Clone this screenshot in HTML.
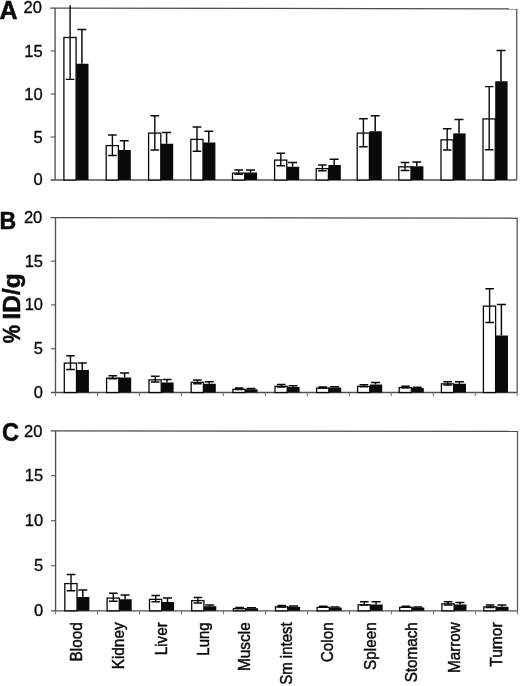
<!DOCTYPE html>
<html><head><meta charset="utf-8"><title>Figure</title>
<style>html,body{margin:0;padding:0;background:#fff}svg{display:block}text{font-family:"Liberation Sans",Arial,Helvetica,sans-serif;fill:#0a0a0a;stroke:#0a0a0a;stroke-width:0.35px}</style></head><body>
<svg width="520" height="686" viewBox="0 0 520 686">
<rect width="520" height="686" fill="#fff"/>
<g>
<line x1="50.1" y1="8.2" x2="517.3000000000001" y2="8.85" stroke="#4c4c4c" stroke-width="1.25"/>
<line x1="516.7" y1="8.85" x2="516.7" y2="180.0" stroke="#5a5a5a" stroke-width="1.3"/>
<line x1="55.1" y1="8.0" x2="55.1" y2="180.0" stroke="#505050" stroke-width="1.35"/>
<line x1="50.6" y1="180.0" x2="516.7" y2="180.0" stroke="#505050" stroke-width="1.3"/>
<text x="41.90" y="12.90" font-size="16.5" text-anchor="end">20</text>
<line x1="50.6" y1="51.00" x2="55.1" y2="51.00" stroke="#555" stroke-width="1.1"/>
<text x="42.60" y="56.50" font-size="16.5" text-anchor="end">15</text>
<line x1="50.6" y1="94.00" x2="55.1" y2="94.00" stroke="#555" stroke-width="1.1"/>
<text x="42.60" y="99.50" font-size="16.5" text-anchor="end">10</text>
<line x1="50.6" y1="137.00" x2="55.1" y2="137.00" stroke="#555" stroke-width="1.1"/>
<text x="42.60" y="142.50" font-size="16.5" text-anchor="end">5</text>
<text x="42.60" y="184.90" font-size="16.5" text-anchor="end">0</text>
<rect x="63.90" y="37.50" width="12.20" height="142.50" fill="#fff" stroke="#0a0a0a" stroke-width="1.3"/>
<rect x="76.10" y="63.75" width="12.40" height="116.25" fill="#0a0a0a"/>
<path d="M70.10 5.30V79.40M65.80 79.40H74.40" stroke="#0a0a0a" stroke-width="1.4" fill="none"/>
<path d="M81.90 29.40V63.75M77.40 29.40H86.40" stroke="#0a0a0a" stroke-width="1.5" fill="none"/>
<rect x="106.20" y="145.60" width="12.20" height="34.40" fill="#fff" stroke="#0a0a0a" stroke-width="1.3"/>
<rect x="118.40" y="150.00" width="12.40" height="30.00" fill="#0a0a0a"/>
<path d="M112.40 135.00V155.50M108.10 135.00H116.70M108.10 155.50H116.70" stroke="#0a0a0a" stroke-width="1.4" fill="none"/>
<path d="M124.20 140.75V150.00M119.70 140.75H128.70" stroke="#0a0a0a" stroke-width="1.5" fill="none"/>
<rect x="148.60" y="133.10" width="12.20" height="46.90" fill="#fff" stroke="#0a0a0a" stroke-width="1.3"/>
<rect x="160.80" y="143.75" width="12.40" height="36.25" fill="#0a0a0a"/>
<path d="M154.80 115.75V150.00M150.50 115.75H159.10M150.50 150.00H159.10" stroke="#0a0a0a" stroke-width="1.4" fill="none"/>
<path d="M166.60 132.50V143.75M162.10 132.50H171.10" stroke="#0a0a0a" stroke-width="1.5" fill="none"/>
<rect x="190.80" y="139.35" width="12.20" height="40.65" fill="#fff" stroke="#0a0a0a" stroke-width="1.3"/>
<rect x="203.00" y="142.50" width="12.40" height="37.50" fill="#0a0a0a"/>
<path d="M197.00 127.00V151.25M192.70 127.00H201.30M192.70 151.25H201.30" stroke="#0a0a0a" stroke-width="1.4" fill="none"/>
<path d="M208.80 131.25V142.50M204.30 131.25H213.30" stroke="#0a0a0a" stroke-width="1.5" fill="none"/>
<rect x="232.50" y="173.10" width="12.20" height="6.90" fill="#fff" stroke="#0a0a0a" stroke-width="1.3"/>
<rect x="244.70" y="172.50" width="12.40" height="7.50" fill="#0a0a0a"/>
<path d="M238.70 170.00V174.25M234.40 170.00H243.00M234.40 174.25H243.00" stroke="#0a0a0a" stroke-width="1.4" fill="none"/>
<path d="M250.50 170.00V172.50M246.00 170.00H255.00" stroke="#0a0a0a" stroke-width="1.5" fill="none"/>
<rect x="274.60" y="160.10" width="12.20" height="19.90" fill="#fff" stroke="#0a0a0a" stroke-width="1.3"/>
<rect x="286.80" y="166.75" width="12.40" height="13.25" fill="#0a0a0a"/>
<path d="M280.80 153.25V165.75M276.50 153.25H285.10M276.50 165.75H285.10" stroke="#0a0a0a" stroke-width="1.4" fill="none"/>
<path d="M292.60 162.50V166.75M288.10 162.50H297.10" stroke="#0a0a0a" stroke-width="1.5" fill="none"/>
<rect x="316.20" y="168.60" width="12.20" height="11.40" fill="#fff" stroke="#0a0a0a" stroke-width="1.3"/>
<rect x="328.40" y="165.00" width="12.40" height="15.00" fill="#0a0a0a"/>
<path d="M322.40 165.00V170.75M318.10 165.00H326.70M318.10 170.75H326.70" stroke="#0a0a0a" stroke-width="1.4" fill="none"/>
<path d="M334.20 159.25V165.00M329.70 159.25H338.70" stroke="#0a0a0a" stroke-width="1.5" fill="none"/>
<rect x="357.20" y="133.10" width="12.20" height="46.90" fill="#fff" stroke="#0a0a0a" stroke-width="1.3"/>
<rect x="369.40" y="131.25" width="12.40" height="48.75" fill="#0a0a0a"/>
<path d="M363.40 118.75V146.75M359.10 118.75H367.70M359.10 146.75H367.70" stroke="#0a0a0a" stroke-width="1.4" fill="none"/>
<path d="M375.20 115.75V131.25M370.70 115.75H379.70" stroke="#0a0a0a" stroke-width="1.5" fill="none"/>
<rect x="398.80" y="166.85" width="12.20" height="13.15" fill="#fff" stroke="#0a0a0a" stroke-width="1.3"/>
<rect x="411.00" y="166.25" width="12.40" height="13.75" fill="#0a0a0a"/>
<path d="M405.00 162.50V170.50M400.70 162.50H409.30M400.70 170.50H409.30" stroke="#0a0a0a" stroke-width="1.4" fill="none"/>
<path d="M416.80 162.00V166.25M412.30 162.00H421.30" stroke="#0a0a0a" stroke-width="1.5" fill="none"/>
<rect x="441.00" y="139.85" width="12.20" height="40.15" fill="#fff" stroke="#0a0a0a" stroke-width="1.3"/>
<rect x="453.20" y="133.40" width="12.40" height="46.60" fill="#0a0a0a"/>
<path d="M447.20 128.75V150.00M442.90 128.75H451.50M442.90 150.00H451.50" stroke="#0a0a0a" stroke-width="1.4" fill="none"/>
<path d="M459.00 119.50V133.40M454.50 119.50H463.50" stroke="#0a0a0a" stroke-width="1.5" fill="none"/>
<rect x="483.00" y="118.90" width="12.20" height="61.10" fill="#fff" stroke="#0a0a0a" stroke-width="1.3"/>
<rect x="495.20" y="81.25" width="12.40" height="98.75" fill="#0a0a0a"/>
<path d="M489.20 86.60V149.75M484.90 86.60H493.50M484.90 149.75H493.50" stroke="#0a0a0a" stroke-width="1.4" fill="none"/>
<path d="M501.00 50.60V81.25M496.50 50.60H505.50" stroke="#0a0a0a" stroke-width="1.5" fill="none"/>
</g>
<g>
<line x1="50.5" y1="217.6" x2="517.8000000000001" y2="218.25" stroke="#4c4c4c" stroke-width="1.25"/>
<line x1="517.2" y1="218.25" x2="517.2" y2="392.5" stroke="#5a5a5a" stroke-width="1.3"/>
<line x1="55.5" y1="217.4" x2="55.5" y2="392.5" stroke="#505050" stroke-width="1.35"/>
<line x1="51.0" y1="392.5" x2="517.2" y2="392.5" stroke="#505050" stroke-width="1.3"/>
<text x="42.30" y="222.50" font-size="16.5" text-anchor="end">20</text>
<line x1="51.0" y1="261.18" x2="55.5" y2="261.18" stroke="#555" stroke-width="1.1"/>
<text x="43.00" y="266.68" font-size="16.5" text-anchor="end">15</text>
<line x1="51.0" y1="304.95" x2="55.5" y2="304.95" stroke="#555" stroke-width="1.1"/>
<text x="43.00" y="310.45" font-size="16.5" text-anchor="end">10</text>
<line x1="51.0" y1="348.73" x2="55.5" y2="348.73" stroke="#555" stroke-width="1.1"/>
<text x="43.00" y="354.23" font-size="16.5" text-anchor="end">5</text>
<text x="43.00" y="398.00" font-size="16.5" text-anchor="end">0</text>
<line x1="55.50" y1="392.5" x2="55.50" y2="396.10" stroke="#666" stroke-width="0.9"/>
<line x1="97.47" y1="392.5" x2="97.47" y2="396.10" stroke="#666" stroke-width="0.9"/>
<line x1="139.45" y1="392.5" x2="139.45" y2="396.10" stroke="#666" stroke-width="0.9"/>
<line x1="181.42" y1="392.5" x2="181.42" y2="396.10" stroke="#666" stroke-width="0.9"/>
<line x1="223.39" y1="392.5" x2="223.39" y2="396.10" stroke="#666" stroke-width="0.9"/>
<line x1="265.36" y1="392.5" x2="265.36" y2="396.10" stroke="#666" stroke-width="0.9"/>
<line x1="307.34" y1="392.5" x2="307.34" y2="396.10" stroke="#666" stroke-width="0.9"/>
<line x1="349.31" y1="392.5" x2="349.31" y2="396.10" stroke="#666" stroke-width="0.9"/>
<line x1="391.28" y1="392.5" x2="391.28" y2="396.10" stroke="#666" stroke-width="0.9"/>
<line x1="433.25" y1="392.5" x2="433.25" y2="396.10" stroke="#666" stroke-width="0.9"/>
<line x1="475.23" y1="392.5" x2="475.23" y2="396.10" stroke="#666" stroke-width="0.9"/>
<line x1="517.20" y1="392.5" x2="517.20" y2="396.10" stroke="#666" stroke-width="0.9"/>
<rect x="64.30" y="363.10" width="12.20" height="29.40" fill="#fff" stroke="#0a0a0a" stroke-width="1.3"/>
<rect x="76.50" y="370.00" width="12.40" height="22.50" fill="#0a0a0a"/>
<path d="M70.50 355.75V369.50M66.20 355.75H74.80M66.20 369.50H74.80" stroke="#0a0a0a" stroke-width="1.4" fill="none"/>
<path d="M82.30 363.00V370.00M77.80 363.00H86.80" stroke="#0a0a0a" stroke-width="1.5" fill="none"/>
<rect x="106.60" y="378.10" width="12.20" height="14.40" fill="#fff" stroke="#0a0a0a" stroke-width="1.3"/>
<rect x="118.80" y="377.50" width="12.40" height="15.00" fill="#0a0a0a"/>
<path d="M112.80 375.75V378.75M108.50 375.75H117.10M108.50 378.75H117.10" stroke="#0a0a0a" stroke-width="1.4" fill="none"/>
<path d="M124.60 373.00V377.50M120.10 373.00H129.10" stroke="#0a0a0a" stroke-width="1.5" fill="none"/>
<rect x="149.00" y="379.85" width="12.20" height="12.65" fill="#fff" stroke="#0a0a0a" stroke-width="1.3"/>
<rect x="161.20" y="382.50" width="12.40" height="10.00" fill="#0a0a0a"/>
<path d="M155.20 376.25V382.00M150.90 376.25H159.50M150.90 382.00H159.50" stroke="#0a0a0a" stroke-width="1.4" fill="none"/>
<path d="M167.00 379.50V382.50M162.50 379.50H171.50" stroke="#0a0a0a" stroke-width="1.5" fill="none"/>
<rect x="191.20" y="382.35" width="12.20" height="10.15" fill="#fff" stroke="#0a0a0a" stroke-width="1.3"/>
<rect x="203.40" y="383.75" width="12.40" height="8.75" fill="#0a0a0a"/>
<path d="M197.40 380.00V383.75M193.10 380.00H201.70M193.10 383.75H201.70" stroke="#0a0a0a" stroke-width="1.4" fill="none"/>
<path d="M209.20 381.75V383.75M204.70 381.75H213.70" stroke="#0a0a0a" stroke-width="1.5" fill="none"/>
<rect x="232.90" y="389.35" width="12.20" height="3.15" fill="#fff" stroke="#0a0a0a" stroke-width="1.3"/>
<rect x="245.10" y="389.25" width="12.40" height="3.25" fill="#0a0a0a"/>
<path d="M239.10 388.00V389.50M234.80 388.00H243.40M234.80 389.50H243.40" stroke="#0a0a0a" stroke-width="1.4" fill="none"/>
<path d="M250.90 388.50V389.25M246.40 388.50H255.40" stroke="#0a0a0a" stroke-width="1.5" fill="none"/>
<rect x="275.00" y="386.35" width="12.20" height="6.15" fill="#fff" stroke="#0a0a0a" stroke-width="1.3"/>
<rect x="287.20" y="387.00" width="12.40" height="5.50" fill="#0a0a0a"/>
<path d="M281.20 384.50V387.00M276.90 384.50H285.50M276.90 387.00H285.50" stroke="#0a0a0a" stroke-width="1.4" fill="none"/>
<path d="M293.00 385.75V387.00M288.50 385.75H297.50" stroke="#0a0a0a" stroke-width="1.5" fill="none"/>
<rect x="316.60" y="388.10" width="12.20" height="4.40" fill="#fff" stroke="#0a0a0a" stroke-width="1.3"/>
<rect x="328.80" y="387.50" width="12.40" height="5.00" fill="#0a0a0a"/>
<path d="M322.80 387.00V388.00M318.50 387.00H327.10M318.50 388.00H327.10" stroke="#0a0a0a" stroke-width="1.4" fill="none"/>
<path d="M334.60 386.75V387.50M330.10 386.75H339.10" stroke="#0a0a0a" stroke-width="1.5" fill="none"/>
<rect x="357.60" y="386.35" width="12.20" height="6.15" fill="#fff" stroke="#0a0a0a" stroke-width="1.3"/>
<rect x="369.80" y="384.50" width="12.40" height="8.00" fill="#0a0a0a"/>
<path d="M363.80 384.75V386.75M359.50 384.75H368.10M359.50 386.75H368.10" stroke="#0a0a0a" stroke-width="1.4" fill="none"/>
<path d="M375.60 382.50V384.50M371.10 382.50H380.10" stroke="#0a0a0a" stroke-width="1.5" fill="none"/>
<rect x="399.20" y="387.60" width="12.20" height="4.90" fill="#fff" stroke="#0a0a0a" stroke-width="1.3"/>
<rect x="411.40" y="388.00" width="12.40" height="4.50" fill="#0a0a0a"/>
<path d="M405.40 386.25V387.75M401.10 386.25H409.70M401.10 387.75H409.70" stroke="#0a0a0a" stroke-width="1.4" fill="none"/>
<path d="M417.20 387.25V388.00M412.70 387.25H421.70" stroke="#0a0a0a" stroke-width="1.5" fill="none"/>
<rect x="441.40" y="383.85" width="12.20" height="8.65" fill="#fff" stroke="#0a0a0a" stroke-width="1.3"/>
<rect x="453.60" y="383.75" width="12.40" height="8.75" fill="#0a0a0a"/>
<path d="M447.60 381.75V385.00M443.30 381.75H451.90M443.30 385.00H451.90" stroke="#0a0a0a" stroke-width="1.4" fill="none"/>
<path d="M459.40 381.75V383.75M454.90 381.75H463.90" stroke="#0a0a0a" stroke-width="1.5" fill="none"/>
<rect x="483.40" y="306.10" width="12.20" height="86.40" fill="#fff" stroke="#0a0a0a" stroke-width="1.3"/>
<rect x="495.60" y="335.50" width="12.40" height="57.00" fill="#0a0a0a"/>
<path d="M489.60 288.75V322.50M485.30 288.75H493.90M485.30 322.50H493.90" stroke="#0a0a0a" stroke-width="1.4" fill="none"/>
<path d="M501.40 304.50V335.50M496.90 304.50H505.90" stroke="#0a0a0a" stroke-width="1.5" fill="none"/>
</g>
<g>
<line x1="50.6" y1="430.8" x2="518.1" y2="431.45000000000005" stroke="#4c4c4c" stroke-width="1.25"/>
<line x1="517.5" y1="431.45000000000005" x2="517.5" y2="610.8" stroke="#5a5a5a" stroke-width="1.3"/>
<line x1="55.6" y1="430.6" x2="55.6" y2="610.8" stroke="#505050" stroke-width="1.35"/>
<line x1="51.1" y1="610.8" x2="517.5" y2="610.8" stroke="#505050" stroke-width="1.3"/>
<text x="42.40" y="436.50" font-size="16.5" text-anchor="end">20</text>
<line x1="51.1" y1="475.65" x2="55.6" y2="475.65" stroke="#555" stroke-width="1.1"/>
<text x="43.10" y="481.15" font-size="16.5" text-anchor="end">15</text>
<line x1="51.1" y1="520.70" x2="55.6" y2="520.70" stroke="#555" stroke-width="1.1"/>
<text x="43.10" y="526.20" font-size="16.5" text-anchor="end">10</text>
<line x1="51.1" y1="565.75" x2="55.6" y2="565.75" stroke="#555" stroke-width="1.1"/>
<text x="43.10" y="571.25" font-size="16.5" text-anchor="end">5</text>
<text x="43.10" y="616.30" font-size="16.5" text-anchor="end">0</text>
<line x1="55.60" y1="610.8" x2="55.60" y2="614.40" stroke="#666" stroke-width="0.9"/>
<line x1="97.59" y1="610.8" x2="97.59" y2="614.40" stroke="#666" stroke-width="0.9"/>
<line x1="139.58" y1="610.8" x2="139.58" y2="614.40" stroke="#666" stroke-width="0.9"/>
<line x1="181.57" y1="610.8" x2="181.57" y2="614.40" stroke="#666" stroke-width="0.9"/>
<line x1="223.56" y1="610.8" x2="223.56" y2="614.40" stroke="#666" stroke-width="0.9"/>
<line x1="265.55" y1="610.8" x2="265.55" y2="614.40" stroke="#666" stroke-width="0.9"/>
<line x1="307.55" y1="610.8" x2="307.55" y2="614.40" stroke="#666" stroke-width="0.9"/>
<line x1="349.54" y1="610.8" x2="349.54" y2="614.40" stroke="#666" stroke-width="0.9"/>
<line x1="391.53" y1="610.8" x2="391.53" y2="614.40" stroke="#666" stroke-width="0.9"/>
<line x1="433.52" y1="610.8" x2="433.52" y2="614.40" stroke="#666" stroke-width="0.9"/>
<line x1="475.51" y1="610.8" x2="475.51" y2="614.40" stroke="#666" stroke-width="0.9"/>
<line x1="517.50" y1="610.8" x2="517.50" y2="614.40" stroke="#666" stroke-width="0.9"/>
<rect x="64.80" y="583.60" width="12.20" height="27.20" fill="#fff" stroke="#0a0a0a" stroke-width="1.3"/>
<rect x="77.00" y="597.00" width="12.40" height="13.80" fill="#0a0a0a"/>
<path d="M71.00 574.50V590.75M66.70 574.50H75.30M66.70 590.75H75.30" stroke="#0a0a0a" stroke-width="1.4" fill="none"/>
<path d="M82.80 590.00V597.00M78.30 590.00H87.30" stroke="#0a0a0a" stroke-width="1.5" fill="none"/>
<rect x="107.10" y="598.10" width="12.20" height="12.70" fill="#fff" stroke="#0a0a0a" stroke-width="1.3"/>
<rect x="119.30" y="599.25" width="12.40" height="11.55" fill="#0a0a0a"/>
<path d="M113.30 593.25V601.25M109.00 593.25H117.60M109.00 601.25H117.60" stroke="#0a0a0a" stroke-width="1.4" fill="none"/>
<path d="M125.10 595.00V599.25M120.60 595.00H129.60" stroke="#0a0a0a" stroke-width="1.5" fill="none"/>
<rect x="149.50" y="599.35" width="12.20" height="11.45" fill="#fff" stroke="#0a0a0a" stroke-width="1.3"/>
<rect x="161.70" y="602.00" width="12.40" height="8.80" fill="#0a0a0a"/>
<path d="M155.70 595.50V601.75M151.40 595.50H160.00M151.40 601.75H160.00" stroke="#0a0a0a" stroke-width="1.4" fill="none"/>
<path d="M167.50 598.00V602.00M163.00 598.00H172.00" stroke="#0a0a0a" stroke-width="1.5" fill="none"/>
<rect x="191.70" y="600.60" width="12.20" height="10.20" fill="#fff" stroke="#0a0a0a" stroke-width="1.3"/>
<rect x="203.90" y="606.25" width="12.40" height="4.55" fill="#0a0a0a"/>
<path d="M197.90 597.50V603.00M193.60 597.50H202.20M193.60 603.00H202.20" stroke="#0a0a0a" stroke-width="1.4" fill="none"/>
<path d="M209.70 605.00V606.25M205.20 605.00H214.20" stroke="#0a0a0a" stroke-width="1.5" fill="none"/>
<rect x="233.40" y="608.60" width="12.20" height="2.20" fill="#fff" stroke="#0a0a0a" stroke-width="1.3"/>
<rect x="245.60" y="608.25" width="12.40" height="2.55" fill="#0a0a0a"/>
<path d="M239.60 607.50V608.50M235.30 607.50H243.90M235.30 608.50H243.90" stroke="#0a0a0a" stroke-width="1.4" fill="none"/>
<path d="M251.40 607.75V608.25M246.90 607.75H255.90" stroke="#0a0a0a" stroke-width="1.5" fill="none"/>
<rect x="275.50" y="606.85" width="12.20" height="3.95" fill="#fff" stroke="#0a0a0a" stroke-width="1.3"/>
<rect x="287.70" y="606.75" width="12.40" height="4.05" fill="#0a0a0a"/>
<path d="M281.70 605.50V607.00M277.40 605.50H286.00M277.40 607.00H286.00" stroke="#0a0a0a" stroke-width="1.4" fill="none"/>
<path d="M293.50 606.00V606.75M289.00 606.00H298.00" stroke="#0a0a0a" stroke-width="1.5" fill="none"/>
<rect x="317.10" y="607.35" width="12.20" height="3.45" fill="#fff" stroke="#0a0a0a" stroke-width="1.3"/>
<rect x="329.30" y="607.50" width="12.40" height="3.30" fill="#0a0a0a"/>
<path d="M323.30 606.25V607.25M319.00 606.25H327.60M319.00 607.25H327.60" stroke="#0a0a0a" stroke-width="1.4" fill="none"/>
<path d="M335.10 607.00V607.50M330.60 607.00H339.60" stroke="#0a0a0a" stroke-width="1.5" fill="none"/>
<rect x="358.10" y="604.85" width="12.20" height="5.95" fill="#fff" stroke="#0a0a0a" stroke-width="1.3"/>
<rect x="370.30" y="604.50" width="12.40" height="6.30" fill="#0a0a0a"/>
<path d="M364.30 601.75V605.00M360.00 601.75H368.60M360.00 605.00H368.60" stroke="#0a0a0a" stroke-width="1.4" fill="none"/>
<path d="M376.10 601.75V604.50M371.60 601.75H380.60" stroke="#0a0a0a" stroke-width="1.5" fill="none"/>
<rect x="399.70" y="607.35" width="12.20" height="3.45" fill="#fff" stroke="#0a0a0a" stroke-width="1.3"/>
<rect x="411.90" y="607.50" width="12.40" height="3.30" fill="#0a0a0a"/>
<path d="M405.90 606.25V607.25M401.60 606.25H410.20M401.60 607.25H410.20" stroke="#0a0a0a" stroke-width="1.4" fill="none"/>
<path d="M417.70 607.00V607.50M413.20 607.00H422.20" stroke="#0a0a0a" stroke-width="1.5" fill="none"/>
<rect x="441.90" y="603.85" width="12.20" height="6.95" fill="#fff" stroke="#0a0a0a" stroke-width="1.3"/>
<rect x="454.10" y="604.50" width="12.40" height="6.30" fill="#0a0a0a"/>
<path d="M448.10 601.75V605.00M443.80 601.75H452.40M443.80 605.00H452.40" stroke="#0a0a0a" stroke-width="1.4" fill="none"/>
<path d="M459.90 602.50V604.50M455.40 602.50H464.40" stroke="#0a0a0a" stroke-width="1.5" fill="none"/>
<rect x="483.90" y="606.85" width="12.20" height="3.95" fill="#fff" stroke="#0a0a0a" stroke-width="1.3"/>
<rect x="496.10" y="606.75" width="12.40" height="4.05" fill="#0a0a0a"/>
<path d="M490.10 605.00V607.50M485.80 605.00H494.40M485.80 607.50H494.40" stroke="#0a0a0a" stroke-width="1.4" fill="none"/>
<path d="M501.90 604.90V606.75M497.40 604.90H506.40" stroke="#0a0a0a" stroke-width="1.5" fill="none"/>
</g>
<text x="-0.4" y="19.3" font-size="25" font-weight="bold" style="stroke-width:0.5px">A</text>
<text transform="translate(-0.4,228.6) scale(0.94,1)" font-size="24.6" font-weight="bold" style="stroke-width:0.5px">B</text>
<text transform="translate(2.1,441.3) scale(0.93,1)" font-size="25.3" font-weight="bold" style="stroke-width:0.5px">C</text>
<text transform="translate(19.9,343.3) rotate(-90) scale(0.84,1)" font-size="24.4" font-weight="bold" style="stroke-width:0.5px">%</text>
<text transform="translate(19.9,319.5) rotate(-90)" font-size="24.4" font-weight="bold" style="stroke-width:0.5px">ID/g</text>
<text transform="translate(81.90,622.3) rotate(-90) scale(0.9684,1)" font-size="15.8" style="stroke-width:0.45px" text-anchor="end">Blood</text>
<text transform="translate(124.10,622.3) rotate(-90) scale(0.9747,1)" font-size="15.8" style="stroke-width:0.45px" text-anchor="end">Kidney</text>
<text transform="translate(166.70,622.3) rotate(-90) scale(0.9620,1)" font-size="15.8" style="stroke-width:0.45px" text-anchor="end">Liver</text>
<text transform="translate(208.80,622.3) rotate(-90) scale(0.9494,1)" font-size="15.8" style="stroke-width:0.45px" text-anchor="end">Lung</text>
<text transform="translate(250.00,622.3) rotate(-90) scale(0.9747,1)" font-size="15.8" style="stroke-width:0.45px" text-anchor="end">Muscle</text>
<text transform="translate(291.80,622.3) rotate(-90) scale(0.9494,1)" font-size="15.8" style="stroke-width:0.45px" text-anchor="end">Sm intest</text>
<text transform="translate(333.40,622.3) rotate(-90) scale(0.9684,1)" font-size="15.8" style="stroke-width:0.45px" text-anchor="end">Colon</text>
<text transform="translate(375.70,622.3) rotate(-90) scale(0.9684,1)" font-size="15.8" style="stroke-width:0.45px" text-anchor="end">Spleen</text>
<text transform="translate(417.30,622.3) rotate(-90) scale(0.9620,1)" font-size="15.8" style="stroke-width:0.45px" text-anchor="end">Stomach</text>
<text transform="translate(459.50,622.3) rotate(-90) scale(0.9620,1)" font-size="15.8" style="stroke-width:0.45px" text-anchor="end">Marrow</text>
<text transform="translate(501.50,622.3) rotate(-90) scale(0.9873,1)" font-size="15.8" style="stroke-width:0.45px" text-anchor="end">Tumor</text>
</svg>
</body></html>
